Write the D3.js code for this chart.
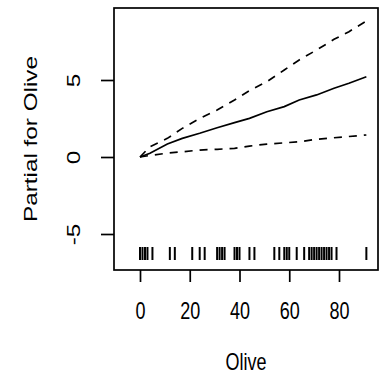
<!DOCTYPE html>
<html>
<head>
<meta charset="utf-8">
<script src="https://cdn.jsdelivr.net/npm/d3@7"></script>
<style>
  body { margin: 0; background: #fff; }
  text { font-family: "Liberation Sans", Arial, sans-serif; fill: #000; }
</style>
</head>
<body>
<div id="chart"></div>
<script>
// Olive values along the x axis
const olive = [0, 4, 11, 17, 24, 31, 38, 44, 51, 58, 64, 71, 78, 84, 91];
// fitted partial effect and the two standard-error bands
const fit = [0, 0.24, 0.84, 1.21, 1.54, 1.9, 2.23, 2.51, 2.94, 3.27, 3.7, 4.03, 4.46, 4.79, 5.21];
const upper = [0, 0.67, 1.21, 1.86, 2.51, 3.05, 3.7, 4.31, 4.89, 5.65, 6.3, 6.95, 7.64, 8.14, 8.83];
const lower = [0, 0.1, 0.25, 0.34, 0.45, 0.5, 0.56, 0.71, 0.84, 0.92, 0.99, 1.15, 1.25, 1.33, 1.43];
// observed Olive values for the rug
const rugValues = [0, 1, 2, 3, 5, 12, 14, 21, 24, 26, 31, 32, 33, 34, 38, 39, 40, 44, 46,
  54, 56, 58, 59, 60, 63, 66, 68, 69, 70, 71, 72, 73, 74, 75, 76, 77, 79, 91];
const xTicks = [0, 20, 40, 60, 80];
const yTicks = [-5, 0, 5];

const width = 381, height = 380;
const box = { left: 114, right: 378, top: 8, bottom: 270 };
const fontSize = 18;
const stretch = 1.35; // text in the reference is stretched vertically

const svg = d3.select('#chart').append('svg')
    .attr('width', width)
    .attr('height', height);

const x = d3.scaleLinear().domain([0, 80]).range([140, 339]);
const y = d3.scaleLinear().domain([0, 5]).range([157, 80]);

// plot frame
svg.append('rect')
    .attr('x', box.left)
    .attr('y', box.top)
    .attr('width', box.right - box.left)
    .attr('height', box.bottom - box.top)
    .attr('fill', 'none')
    .attr('stroke', '#000')
    .attr('stroke-width', 1.7);

// x axis
const gx = svg.append('g')
    .attr('transform', `translate(0,${box.bottom})`)
    .call(d3.axisBottom(x).tickValues(xTicks).tickSize(12));
gx.select('.domain').remove();
gx.selectAll('.tick line').attr('stroke-width', 1.7);
gx.selectAll('.tick text')
    .attr('font-size', fontSize)
    .attr('font-family', null)
    .attr('y', null)
    .attr('dy', null)
    .attr('transform', `translate(0,49) scale(1,${stretch})`);

// y axis, labels rotated like R's default (plain hyphen for minus)
const gy = svg.append('g')
    .attr('transform', `translate(${box.left},0)`)
    .call(d3.axisLeft(y).tickValues(yTicks).tickSize(13).tickFormat(d => String(d)));
gy.select('.domain').remove();
gy.selectAll('.tick line').attr('stroke-width', 1.7);
gy.selectAll('.tick text')
    .attr('font-size', fontSize)
    .attr('font-family', null)
    .attr('text-anchor', 'middle')
    .attr('x', null)
    .attr('dy', null)
    .attr('transform', `translate(-34,0) scale(1,${stretch}) rotate(-90)`);

// fitted line and bands
const line = d3.line()
    .x((d, i) => x(olive[i]))
    .y(d => y(d));

svg.append('path').datum(fit)
    .attr('d', line)
    .attr('fill', 'none')
    .attr('stroke', '#000')
    .attr('stroke-width', 1.7);

[upper, lower].forEach(band => {
    svg.append('path').datum(band)
        .attr('d', line)
        .attr('fill', 'none')
        .attr('stroke', '#000')
        .attr('stroke-width', 1.7)
        .attr('stroke-dasharray', '8,7');
});

// rug
svg.append('g').selectAll('line')
    .data(rugValues)
    .join('line')
    .attr('x1', d => x(d))
    .attr('x2', d => x(d))
    .attr('y1', 247)
    .attr('y2', 260)
    .attr('stroke', '#000')
    .attr('stroke-width', 2);

// axis titles
svg.append('text')
    .attr('transform', `translate(${(box.left + box.right) / 2},370) scale(1,${stretch})`)
    .attr('text-anchor', 'middle')
    .attr('font-size', fontSize)
    .text('Olive');

svg.append('text')
    .attr('transform', `translate(37,${(box.top + box.bottom) / 2}) scale(1,${stretch}) rotate(-90)`)
    .attr('text-anchor', 'middle')
    .attr('font-size', fontSize)
    .text('Partial for Olive');
</script>
</body>
</html>
